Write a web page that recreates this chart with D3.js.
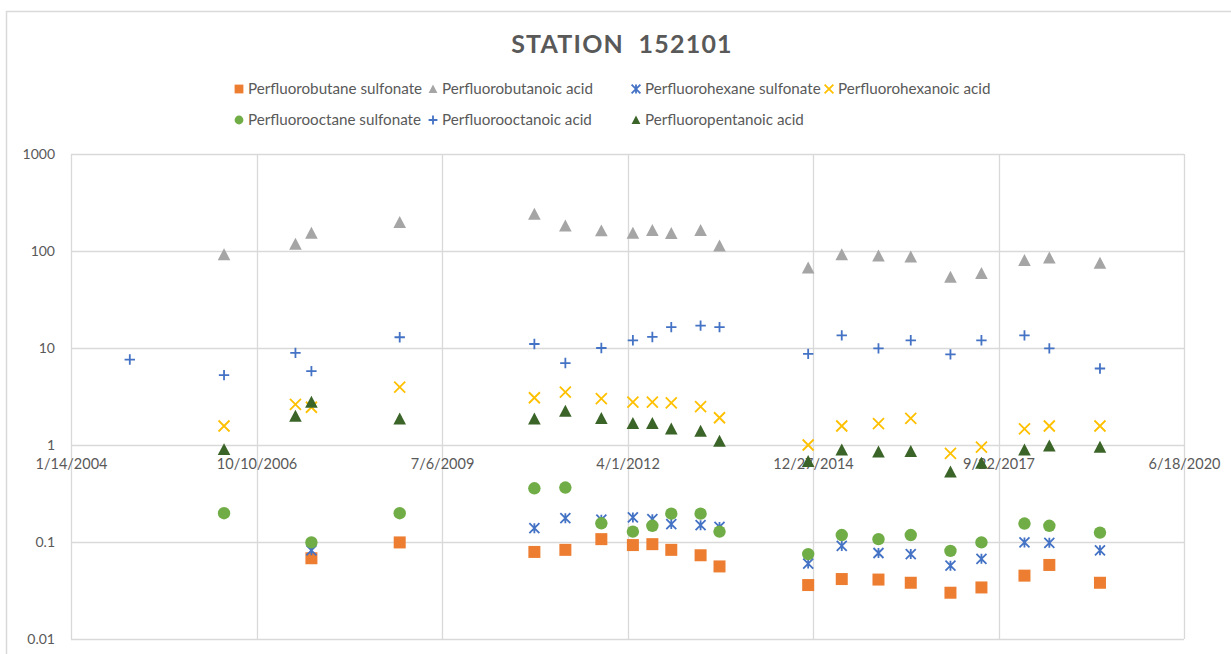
<!DOCTYPE html>
<html>
<head>
<meta charset="utf-8">
<title>Station 152101</title>
<script src="https://cdn.jsdelivr.net/npm/d3@7"></script>
<style>
  html, body { margin: 0; padding: 0; background: #fff; }
  svg { display: block; font-family: Lato, "Open Sans", sans-serif; }
</style>
</head>
<body>
<svg id="chart" width="1231" height="654"></svg>
<script>
// Sampling dates at station 152101
const sampleDates = ["2004-11-26","2006-04-18","2007-05-08","2007-08-02","2008-11-20","2010-11-16",
  "2011-05-02","2011-11-12","2012-04-30","2012-08-13","2012-11-23","2013-04-30","2013-08-10",
  "2014-12-01","2015-05-31","2015-12-15","2016-06-06","2017-01-06","2017-06-22","2018-02-09",
  "2018-06-23","2019-03-23"];

// Concentrations per compound (null = not reported)
const pfbs  = [null,null,null,0.068,0.099,0.079,0.083,0.107,0.093,0.095,0.083,0.073,0.056,0.036,0.0415,0.041,0.038,0.030,0.034,0.045,0.058,0.038];
const pfba  = [null,92,118,153,198,240,182,162,153,163,152,163,113,67,92,89,87,54,59,80,85,75];
const pfhxs = [null,null,null,0.082,null,0.139,0.176,0.17,0.179,0.172,0.153,0.149,0.143,0.060,0.091,0.077,0.075,0.057,0.067,0.099,0.098,0.082];
const pfhxa = [null,1.57,2.62,2.45,3.95,3.07,3.5,3.0,2.77,2.77,2.72,2.48,1.91,1.0,1.57,1.66,1.88,0.82,0.95,1.47,1.57,1.57];
const pfos  = [null,0.198,null,0.099,0.198,0.358,0.364,0.156,0.128,0.147,0.196,0.196,0.128,0.075,0.118,0.107,0.118,0.081,0.099,0.155,0.147,0.125];
const pfoa  = [7.6,5.25,8.9,5.77,12.9,11.0,7.0,10.0,12.0,13.0,16.4,17.0,16.4,8.7,13.5,9.9,12.0,8.6,12.0,13.5,9.9,6.15];
const pfpea = [null,0.90,1.99,2.77,1.86,1.86,2.24,1.88,1.67,1.67,1.47,1.39,1.10,0.68,0.89,0.85,0.86,0.53,0.65,0.89,0.98,0.95];

const seriesNames = ["Perfluorobutane sulfonate","Perfluorobutanoic acid","Perfluorohexane sulfonate",
  "Perfluorohexanoic acid","Perfluorooctane sulfonate","Perfluorooctanoic acid","Perfluoropentanoic acid"];
const seriesValues = [pfbs, pfba, pfhxs, pfhxa, pfos, pfoa, pfpea];

// Axis tick labels
const xTickLabels = ["1/14/2004","10/10/2006","7/6/2009","4/1/2012","12/27/2014","9/22/2017","6/18/2020"];
const yTickValues = [0.01, 0.1, 1, 10, 100, 1000];
const yTickLabels = ["0.01","0.1","1","10","100","1000"];

const titleText = "STATION  152101";

// ---- marker styles ----
const markerStyles = [
  { shape: "square",   color: "#ED7D31", size: 6 },
  { shape: "triangle", color: "#A5A5A5", size: 6.3 },
  { shape: "star",     color: "#4472C4", size: 5 },
  { shape: "x",        color: "#FFC000", size: 5.5 },
  { shape: "circle",   color: "#70AD47", size: 6.2 },
  { shape: "plus",     color: "#4472C4", size: 5.2 },
  { shape: "triangle", color: "#3B6428", size: 6.3 }
];

function markerPath(shape, s) {
  // s = half-size of the marker
  switch (shape) {
    case "square":   return `M${-s},${-s}H${s}V${s}H${-s}Z`;
    case "circle":   return `M${s},0A${s},${s} 0 1,1 ${-s},0A${s},${s} 0 1,1 ${s},0Z`;
    case "triangle": return `M0,${-s}L${s},${s * 0.9}L${-s},${s * 0.9}Z`;
    case "plus":     return `M${-s},0H${s}M0,${-s}V${s}`;
    case "x":        return `M${-s},${-s}L${s},${s}M${s},${-s}L${-s},${s}`;
    case "star":     return `M${-s},${-s}L${s},${s}M${s},${-s}L${-s},${s}M0,${-s}V${s}`;
  }
}
const filled = shape => shape === "square" || shape === "circle" || shape === "triangle";

function drawMarker(sel, style, size) {
  const isFilled = filled(style.shape);
  sel.append("path")
    .attr("d", markerPath(style.shape, size))
    .attr("fill", isFilled ? style.color : "none")
    .attr("stroke", isFilled ? "none" : style.color)
    .attr("stroke-width", isFilled ? 0 : 1.8)
    .attr("stroke-linecap", "butt");
}

// ---- layout ----
const svg = d3.select("#chart");
const W = 1231, H = 654;
const plot = { left: 71, right: 1184, top: 154, bottom: 639 };
const textColor = "#595959";
const gridColor = "#D9D9D9";

svg.append("rect").attr("width", W).attr("height", H).attr("fill", "#fff");
// chart frame
svg.append("rect")
  .attr("x", 6.5).attr("y", 11.5).attr("width", W + 20).attr("height", H + 20)
  .attr("fill", "none").attr("stroke", gridColor).attr("stroke-width", 1.5);

const parseISO = d3.timeParse("%Y-%m-%d");
const parseTick = d3.timeParse("%m/%d/%Y");
const xTickDates = xTickLabels.map(parseTick);

const x = d3.scaleTime()
  .domain([xTickDates[0], xTickDates[xTickDates.length - 1]])
  .range([plot.left, plot.right]);
const y = d3.scaleLog()
  .domain([0.01, 1000])
  .range([plot.bottom, plot.top]);

// grid lines
const grid = svg.append("g").attr("stroke", gridColor).attr("stroke-width", 1.3);
grid.selectAll("line.h").data(yTickValues).join("line")
  .attr("x1", plot.left).attr("x2", plot.right)
  .attr("y1", d => Math.round(y(d)) + 0.5).attr("y2", d => Math.round(y(d)) + 0.5);
grid.selectAll("line.v").data(xTickDates).join("line")
  .attr("y1", plot.top).attr("y2", plot.bottom)
  .attr("x1", d => Math.round(x(d)) + 0.5).attr("x2", d => Math.round(x(d)) + 0.5);

// y axis
const yAxis = svg.append("g")
  .attr("transform", `translate(${plot.left},0)`)
  .call(d3.axisLeft(y).tickValues(yTickValues)
    .tickFormat((d, i) => yTickLabels[i]).tickSize(0).tickPadding(16));
yAxis.select(".domain").remove();
yAxis.selectAll("text").attr("fill", textColor).style("font-size", "14px")
  .style("font-family", "Lato, sans-serif");

// x axis, crossing at 1
const xAxis = svg.append("g")
  .attr("transform", `translate(0,${y(1)})`)
  .call(d3.axisBottom(x).tickValues(xTickDates)
    .tickFormat((d, i) => xTickLabels[i]).tickSize(0).tickPadding(14));
xAxis.select(".domain").remove();
xAxis.selectAll("text").attr("fill", textColor).style("font-size", "14.5px")
  .style("font-family", "Lato, sans-serif");

// data markers, series drawn in order
seriesValues.forEach((vals, si) => {
  const pts = vals.map((v, i) => ({ date: parseISO(sampleDates[i]), v }))
    .filter(p => p.v !== null);
  const g = svg.append("g").attr("class", "series");
  const st = markerStyles[si];
  pts.forEach(p => {
    const m = g.append("g").attr("transform", `translate(${x(p.date)},${y(p.v)})`);
    drawMarker(m, st, st.size);
  });
});

// title
svg.append("text")
  .attr("x", 622).attr("y", 53)
  .attr("text-anchor", "middle")
  .style("white-space", "pre")
  .style("font-family", "Lato, sans-serif")
  .style("font-weight", "bold")
  .style("font-size", "25px")
  .style("letter-spacing", "1.2px")
  .attr("fill", textColor)
  .text(titleText);

// legend
const legendCols = [239, 433, 636, 829];
const legendRows = [89, 120];
const legend = svg.append("g");
seriesNames.forEach((name, i) => {
  const col = i % 4, row = Math.floor(i / 4);
  const g = legend.append("g")
    .attr("transform", `translate(${legendCols[col]},${legendRows[row]})`);
  drawMarker(g, markerStyles[i], 4.4);
  g.append("text")
    .attr("x", 9).attr("y", 0).attr("dy", "0.35em")
    .attr("fill", textColor)
    .style("font-size", "15.2px")
    .style("font-family", "Lato, sans-serif")
    .text(name);
});
</script>
</body>
</html>
